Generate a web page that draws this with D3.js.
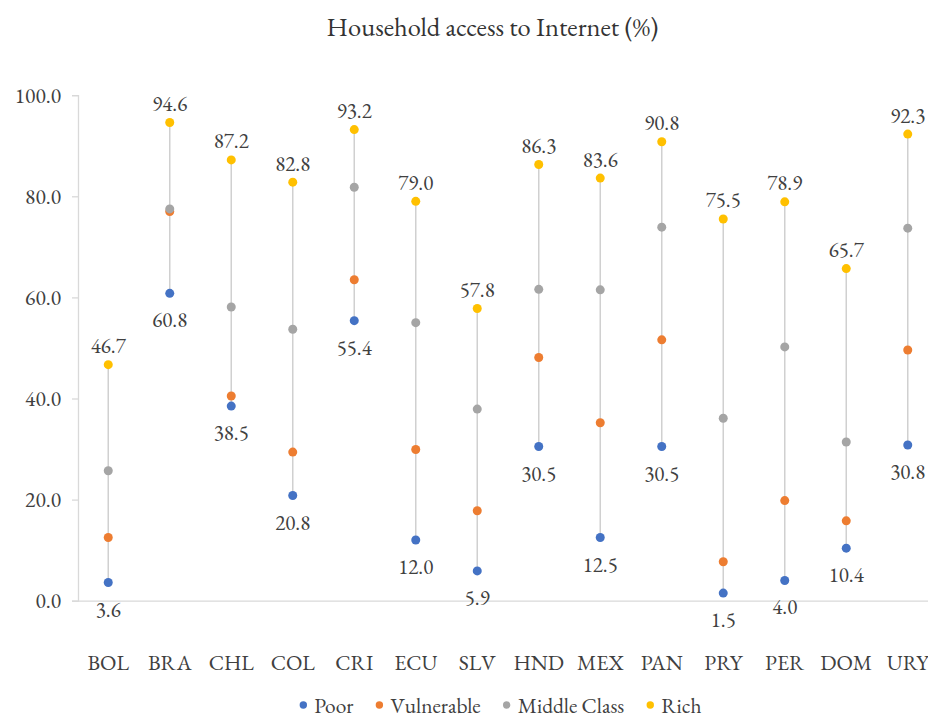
<!DOCTYPE html>
<html>
<head>
<meta charset="utf-8">
<script src="https://cdn.jsdelivr.net/npm/d3@7"></script>
<style>
  html, body { margin: 0; padding: 0; background: #fff; }
  svg { display: block; }
</style>
</head>
<body>
<svg id="chart" width="928" height="717"></svg>
<script>
const countries = ["BOL","BRA","CHL","COL","CRI","ECU","SLV","HND","MEX","PAN","PRY","PER","DOM","URY"];
const poor       = [3.6, 60.8, 38.5, 20.8, 55.4, 12.0, 5.9, 30.5, 12.5, 30.5, 1.5, 4.0, 10.4, 30.8];
const vulnerable = [12.5, 77.0, 40.5, 29.4, 63.5, 29.9, 17.8, 48.1, 35.2, 51.6, 7.7, 19.8, 15.8, 49.6];
const middle     = [25.7, 77.5, 58.1, 53.7, 81.8, 55.0, 37.9, 61.6, 61.5, 73.9, 36.1, 50.2, 31.4, 73.7];
const rich       = [46.7, 94.6, 87.2, 82.8, 93.2, 79.0, 57.8, 86.3, 83.6, 90.8, 75.5, 78.9, 65.7, 92.3];
const seriesNames = ["Poor", "Vulnerable", "Middle Class", "Rich"];
const yTicks = [0, 20, 40, 60, 80, 100];
const title = "Household access to Internet (%)";

const colors = ["#4472C4", "#ED7D31", "#A5A5A5", "#FFC000"];
const seriesValues = [poor, vulnerable, middle, rich];
const FONT = '"EB Garamond", "Liberation Serif", "Times New Roman", serif';
const TXT = "#404040";

const svg = d3.select("#chart");

const x = d3.scaleBand().domain(countries).range([77.5, 938.5]).padding(0);
const y = d3.scaleLinear().domain([0, 100]).range([600.7, 95.2]);
const cx = c => x(c) + x.bandwidth() / 2;

function styleText(sel, size) {
  return sel.style("font-family", FONT).style("font-size", size + "px").attr("fill", TXT);
}

// Title
styleText(svg.append("text")
  .attr("x", 492.5).attr("y", 36)
  .attr("text-anchor", "middle")
  .text(title), 26.5).attr("fill", "#333333");

// Y axis
const yAxis = svg.append("g")
  .attr("transform", "translate(78,0)")
  .call(d3.axisLeft(y).tickValues(yTicks).tickFormat(d3.format(".1f")).tickSize(6).tickPadding(11));
yAxis.attr("font-family", null).attr("font-size", null);
yAxis.select(".domain").attr("stroke", "#D9D9D9").attr("stroke-width", 1.3);
yAxis.selectAll(".tick line").attr("stroke", "#D9D9D9").attr("stroke-width", 1.3);
styleText(yAxis.selectAll(".tick text"), 21.5);

// X axis
const xAxis = svg.append("g")
  .attr("transform", `translate(0,${y(0)})`)
  .call(d3.axisBottom(x).tickSize(0).tickPadding(54));
xAxis.attr("font-family", null).attr("font-size", null);
xAxis.select(".domain").attr("stroke", "#D9D9D9").attr("stroke-width", 1.3);
styleText(xAxis.selectAll(".tick text"), 21.5);

// Hi-lo lines
const rows = countries.map((c, i) => ({ c, vals: seriesValues.map(s => s[i]) }));
svg.append("g").selectAll("line").data(rows).join("line")
  .attr("x1", d => cx(d.c)).attr("x2", d => cx(d.c))
  .attr("y1", d => y(d3.min(d.vals))).attr("y2", d => y(d3.max(d.vals)))
  .attr("stroke", "#D0D0D0").attr("stroke-width", 1.5);

// Dots
seriesValues.forEach((s, si) => {
  svg.append("g").selectAll("circle").data(countries).join("circle")
    .attr("cx", d => cx(d))
    .attr("cy", (d, i) => y(s[i]))
    .attr("r", 4.5)
    .attr("fill", colors[si]);
});

// Labels: rich above, poor below
styleText(svg.append("g").selectAll("text").data(countries).join("text")
  .attr("x", d => cx(d))
  .attr("y", (d, i) => y(rich[i]) - 11.6)
  .attr("text-anchor", "middle")
  .text((d, i) => rich[i].toFixed(1)), 21);

styleText(svg.append("g").selectAll("text").data(countries).join("text")
  .attr("x", d => cx(d))
  .attr("y", (d, i) => y(poor[i]) + 34)
  .attr("text-anchor", "middle")
  .text((d, i) => poor[i].toFixed(1)), 21);

// Legend
const legendY = 705;
const items = [];
seriesNames.forEach((n, i) => {
  const g = svg.append("g");
  g.append("circle").attr("cx", 0).attr("cy", 0).attr("r", 3.7).attr("fill", colors[i]);
  const t = styleText(g.append("text").attr("x", 11).attr("y", 7.5).text(n), 21.4);
  items.push({ g, w: 11 + t.node().getComputedTextLength() });
});
const gap = 26;
const total = d3.sum(items, d => d.w) + gap * (items.length - 1);
let lx = 502.4 - total / 2;
items.forEach(it => {
  it.g.attr("transform", `translate(${lx},${legendY})`);
  lx += it.w + gap;
});
</script>
</body>
</html>
